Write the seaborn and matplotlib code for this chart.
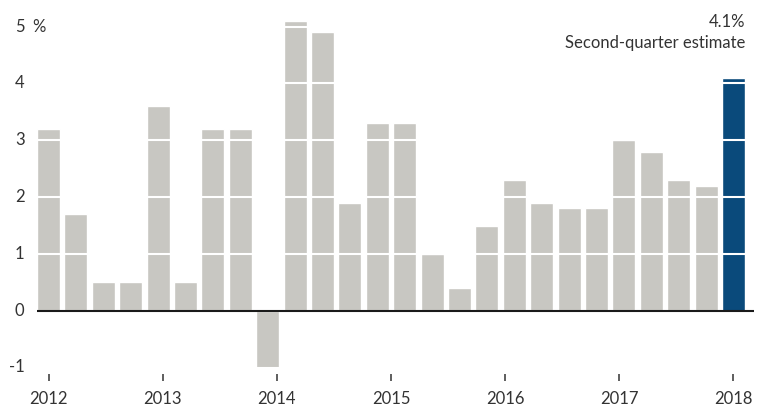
import matplotlib
matplotlib.use("Agg")
import matplotlib.pyplot as plt
import seaborn as sns
import pandas as pd

quarters = ["2012Q1", "2012Q2", "2012Q3", "2012Q4",
            "2013Q1", "2013Q2", "2013Q3", "2013Q4",
            "2014Q1", "2014Q2", "2014Q3", "2014Q4",
            "2015Q1", "2015Q2", "2015Q3", "2015Q4",
            "2016Q1", "2016Q2", "2016Q3", "2016Q4",
            "2017Q1", "2017Q2", "2017Q3", "2017Q4",
            "2018Q1", "2018Q2"]
growth = [3.2, 1.7, 0.5, 0.5,
          3.6, 0.5, 3.2, 3.2,
          -1.0, 5.1, 4.9, 1.9,
          3.3, 3.3, 1.0, 0.4,
          1.5, 2.3, 1.9, 1.8,
          1.8, 3.0, 2.8, 2.3,
          2.2, 4.1]
kind = ["past"] * 25 + ["estimate"]
year_labels = ["2012", "2013", "2014", "2015", "2016", "2017", "2018"]
y_ticks = [-1, 0, 1, 2, 3, 4, 5]

GRAY = "#C8C7C2"
BLUE = "#0A4A7B"
TEXT = "#333333"

sns.set_theme(style="white")
plt.rcParams["font.family"] = ["Lato", "DejaVu Sans"]

df = pd.DataFrame({"quarter": quarters, "growth": growth, "kind": kind})

Y_BOTTOM, Y_TOP = -1.0, 5.2
px_bottom = 367.5
px_top = 310.7 - Y_TOP * 56.8

fig = plt.figure(figsize=(7.68, 4.13), dpi=100)
ax = fig.add_axes([37 / 768, (413 - px_bottom) / 413,
                   (754 - 37) / 768, (px_bottom - px_top) / 413])

sns.barplot(data=df, x="quarter", y="growth", hue="kind",
            palette={"past": GRAY, "estimate": BLUE},
            width=0.84, legend=False, ax=ax, zorder=1, saturation=1)

ax.set_xlim(-0.42, 25.75)
ax.set_ylim(Y_BOTTOM, Y_TOP)

# white gridlines over bars
for v in y_ticks:
    if v != 0:
        ax.axhline(v, color="white", lw=1.5, zorder=3)
ax.axhline(0, color="#1a1a1a", lw=1.5, zorder=4)

for s in ["top", "right", "left", "bottom"]:
    ax.spines[s].set_visible(False)
ax.spines["bottom"].set_position(("outward", 5))

n = len(quarters)
tick_pos = [i * (n - 1) / (len(year_labels) - 1) for i in range(len(year_labels))]
ax.set_xticks(tick_pos)
ax.set_xticklabels(year_labels)
ax.tick_params(axis="x", bottom=True, direction="out", length=5, width=1.1,
               color=TEXT, labelcolor=TEXT, labelsize=12, pad=7)

ax.set_yticks(y_ticks)
ax.set_yticklabels([str(v) for v in y_ticks])
ax.tick_params(axis="y", left=False, length=0, labelsize=12, labelcolor=TEXT, pad=9)
for lab in ax.get_yticklabels():
    lab.set_verticalalignment("center")
ax.text(-0.12, 5.0, "%", transform=ax.transData, ha="right", va="center",
        fontsize=12, color=TEXT)

ax.set_xlabel("")
ax.set_ylabel("")

fig.text(745 / 768, 1 - 22 / 413, "4.1%", ha="right", va="center",
         fontsize=12, color=TEXT)
fig.text(745 / 768, 1 - 43 / 413, "Second-quarter estimate", ha="right",
         va="center", fontsize=12, color=TEXT)

fig.savefig("out.png", dpi=100, facecolor="white")
